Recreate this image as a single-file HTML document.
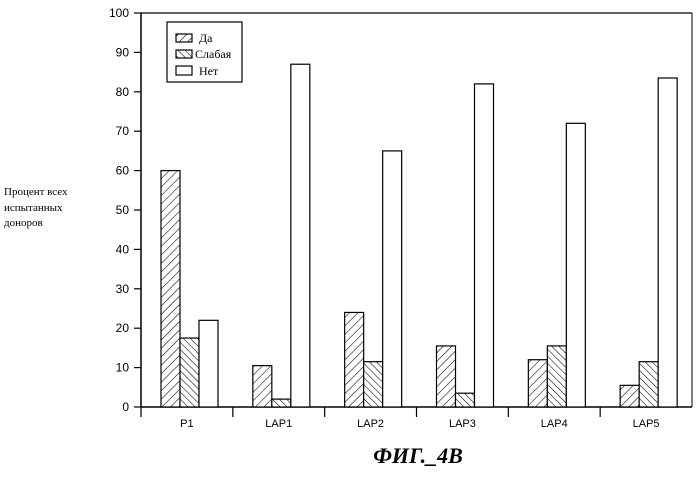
<!DOCTYPE html>
<html><head><meta charset="utf-8"><style>
body{margin:0;background:#fff;}
svg text{font-family:"Liberation Sans",sans-serif;}
</style></head><body>
<svg width="699" height="472" viewBox="0 0 699 472" xmlns="http://www.w3.org/2000/svg">
<defs>
<pattern id="hatchA" width="6" height="6" patternUnits="userSpaceOnUse" patternTransform="rotate(45)"><rect width="6" height="6" fill="#fff"/><line x1="0" y1="0" x2="0" y2="6" stroke="#000" stroke-width="1.1"/></pattern>
<pattern id="hatchB" width="5" height="5" patternUnits="userSpaceOnUse" patternTransform="rotate(-45)"><rect width="5" height="5" fill="#fff"/><line x1="0" y1="0" x2="0" y2="5" stroke="#000" stroke-width="1.1"/></pattern>
</defs>
<g id="axes"></g>
<g id="bars"></g>
<text x="4" y="195" font-family="Liberation Serif" font-size="11" style="font-family:'Liberation Serif',serif">Процент всех</text>
<text x="4" y="211" font-size="11" style="font-family:'Liberation Serif',serif">испытанных</text>
<text x="4" y="226" font-size="11" style="font-family:'Liberation Serif',serif">доноров</text>
<text x="418" y="463" text-anchor="middle" font-size="22" font-weight="bold" font-style="italic" style="font-family:'Liberation Serif',serif">ФИГ._4B</text>
<g>
<rect x="167" y="22" width="75" height="60" fill="#fff" stroke="#000" stroke-width="1.2"/>
<rect x="176" y="34" width="16" height="8" fill="url(#hatchA)" stroke="#000" stroke-width="1.2"/>
<text x="199" y="42" font-size="12" style="font-family:'Liberation Serif',serif">Да</text>
<rect x="176" y="50" width="16" height="8" fill="url(#hatchB)" stroke="#000" stroke-width="1.2"/>
<text x="195" y="58" font-size="12" style="font-family:'Liberation Serif',serif">Слабая</text>
<rect x="176" y="66" width="16" height="9" fill="#fff" stroke="#000" stroke-width="1.2"/>
<text x="199" y="75" font-size="12" style="font-family:'Liberation Serif',serif">Нет</text>
</g>
</svg>
<script>
const categories=["P1","LAP1","LAP2","LAP3","LAP4","LAP5"];
const daValues=[60,10.5,24,15.5,12,5.5];
const slabayaValues=[17.5,2,11.5,3.5,15.5,11.5];
const netValues=[22,87,65,82,72,83.5];
const yTicks=[0,10,20,30,40,50,60,70,80,90,100];
const NS="http://www.w3.org/2000/svg";
const x0=141,x1=692,yBase=407,yTop=13,yMax=100;
const catW=(x1-x0)/categories.length;
function y(v){return yBase-(v/yMax)*(yBase-yTop);}
function mk(t,a,p){const e=document.createElementNS(NS,t);for(const k in a)e.setAttribute(k,a[k]);p.appendChild(e);return e;}
const axes=document.getElementById('axes'),bars=document.getElementById('bars');
let e=mk('line',{x1:x0,y1:yTop,x2:x0,y2:yBase,stroke:'#000','stroke-width':1.5},axes);


e=mk('line',{x1:x0,y1:yBase,x2:x1,y2:yBase,stroke:'#000','stroke-width':1.5},axes);


e=mk('line',{x1:x0,y1:yTop,x2:x1,y2:yTop,stroke:'#000','stroke-width':1.2},axes);


e=mk('line',{x1:x1,y1:yTop,x2:x1,y2:yBase,stroke:'#000','stroke-width':1},axes);


yTicks.forEach(t=>{
  const l=mk('line',{x1:x0-7,y1:y(t),x2:x0,y2:y(t),stroke:'#000','stroke-width':1.2},axes);
  
  
  const tx=mk('text',{x:x0-12,y:y(t)+4,'text-anchor':'end','font-size':12},axes);
  tx.textContent=t;
  
  
});
categories.forEach((c,i)=>{
  const cx=x0+catW*i;
  const l=mk('line',{x1:cx,y1:yBase,x2:cx,y2:yBase+10,stroke:'#000','stroke-width':1.2},axes);
  
  
  const tx=mk('text',{x:cx+catW/2,y:yBase+20,'text-anchor':'middle','font-size':11},axes);
  tx.textContent=c;
  
  
  const series=[[daValues,'url(#hatchA)','bar-da'],[slabayaValues,'url(#hatchB)','bar-slabaya'],[netValues,'#fff','bar-net']];
  series.forEach((s,j)=>{
    const v=s[0][i];
    const r=mk('rect',{x:cx+20+j*19,y:y(v),width:19,height:yBase-y(v),fill:s[1],stroke:'#000','stroke-width':1.2},bars);
    
    
  });
});
</script>
</body></html>
